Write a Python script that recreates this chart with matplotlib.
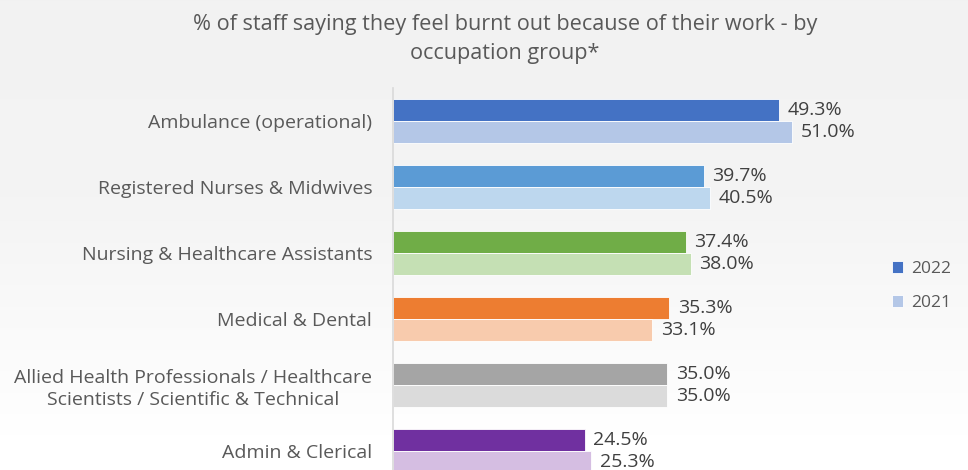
import numpy as np
import matplotlib.pyplot as plt

# data
groups = ['Ambulance (operational)', 'Registered Nurses & Midwives',
          'Nursing & Healthcare Assistants', 'Medical & Dental',
          'Allied Health Professionals / Healthcare\nScientists / Scientific & Technical',
          'Admin & Clerical']
vals_2022 = [49.3, 39.7, 37.4, 35.3, 35.0, 24.5]
vals_2021 = [51.0, 40.5, 38.0, 33.1, 35.0, 25.3]
years = ['2022', '2021']

colors_2022 = ['#4472C4', '#5B9BD5', '#70AD47', '#ED7D31', '#A5A5A5', '#7030A0']
colors_2021 = ['#B4C7E7', '#BDD7EE', '#C5E0B4', '#F8CBAD', '#DBDBDB', '#D5BEE2']

plt.rcParams['font.family'] = ['Open Sans', 'DejaVu Sans']

W, H = 968, 470
fig = plt.figure(figsize=(W / 100, H / 100), dpi=100)

# background gradient, light grey at top fading to white near the bottom
bg = fig.add_axes([0, 0, 1, 1], zorder=-10)
rows = np.arange(H)
shade = np.interp(rows, [0, 200, 435, H], [0.949, 0.957, 1.0, 1.0])
bg.imshow(np.tile(shade[:, None, None], (1, 10, 3)), aspect='auto',
          extent=[0, 1, 0, 1], origin='upper')
bg.axis('off')

ax = fig.add_axes([393 / W, 0, (870 - 393) / W, (470 - 88) / H])
ax.patch.set_alpha(0)

y = np.arange(len(groups))
h = 0.326
ax.barh(y - h / 2, vals_2022, height=h, color=colors_2022, edgecolor='white',
        linewidth=0.6, label=years[0])
ax.barh(y + h / 2, vals_2021, height=h, color=colors_2021, edgecolor='white',
        linewidth=0.6, label=years[1])

for i in range(len(groups)):
    ax.text(vals_2022[i] + 1.1, y[i] - h / 2, f'{vals_2022[i]:.1f}%',
            va='center', ha='left', fontsize=14, color='#404040')
    ax.text(vals_2021[i] + 1.1, y[i] + h / 2, f'{vals_2021[i]:.1f}%',
            va='center', ha='left', fontsize=14, color='#404040')

ax.set_xlim(0, (870 - 393) / 7.83)
ax.set_ylim((470 - 121) / 66, -0.5)
ax.set_yticks(y)
ax.set_yticklabels(groups, fontsize=14, color='#595959', linespacing=1.3,
                   multialignment='center')
ax.tick_params(axis='y', length=0, pad=15)
ax.set_xticks([])
for s in ['top', 'right', 'bottom']:
    ax.spines[s].set_visible(False)
ax.spines['left'].set_color('#D9D9D9')
ax.spines['left'].set_linewidth(1.2)

# legend
fig.legend(handles=ax.patches[:1] + ax.patches[len(groups):len(groups) + 1],
           labels=years, loc='center left', bbox_to_anchor=(876 / W, 1 - 286 / H),
           frameon=False, fontsize=12.5, handlelength=0.65, handleheight=0.65,
           handletextpad=0.45, labelspacing=1.05, labelcolor='#595959')

fig.text(505 / W, 1 - 39 / H,
         '% of staff saying they feel burnt out because of their work - by\noccupation group*',
         ha='center', va='center', fontsize=15.6, color='#595959', linespacing=1.5)

fig.savefig('out.png', dpi=100)
